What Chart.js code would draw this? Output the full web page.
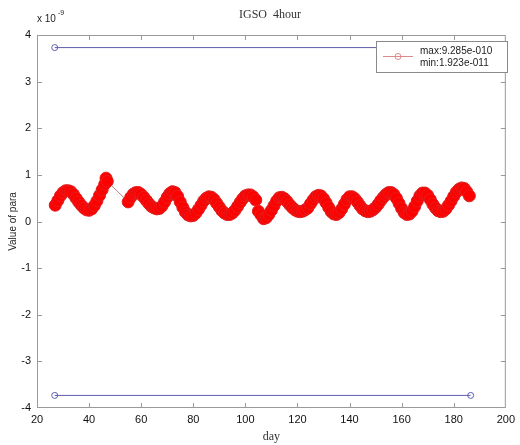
<!DOCTYPE html>
<html>
<head>
<meta charset="utf-8">
<script src="https://cdn.jsdelivr.net/npm/chart.js@4.4.0/dist/chart.umd.min.js"></script>
<style>
  html, body { margin: 0; padding: 0; background: #fff; }
  #wrap { width: 520px; height: 445px; }
</style>
</head>
<body>
<div id="wrap"><canvas id="chart" width="520" height="445"></canvas></div>
<script>
'use strict';

// data (values in units of 1e-9)
let days = [
  27, 28, 29, 30, 31, 32, 33, 34, 35, 36, 37, 38, 39, 40, 41, 42, 43, 44, 45, 46, 46.5, 47,
  55, 56, 57, 58, 59, 60, 61, 62, 63, 64, 65, 66, 67, 68, 69, 70, 71, 72, 73, 74, 75, 76, 77, 78, 79, 80,
  81, 82, 83, 84, 85, 86, 87, 88, 89, 90, 91, 92, 93, 94, 95, 96, 97, 98, 99, 100, 101, 102, 103, 104,
  105, 106, 107, 108, 109, 110, 111, 112, 113, 114, 115, 116, 117, 118, 119, 120, 121, 122, 123, 124,
  125, 126, 127, 128, 129, 130, 131, 132, 133, 134, 135, 136, 137, 138, 139, 140, 141, 142, 143, 144,
  145, 146, 147, 148, 149, 150, 151, 152, 153, 154, 155, 156, 157, 158, 159, 160, 161, 162, 163, 164,
  165, 166, 167, 168, 169, 170, 171, 172, 173, 174, 175, 176, 177, 178, 179, 180, 181, 182, 183, 184, 185, 186
];
let values = [
  0.35, 0.45, 0.55, 0.62, 0.66, 0.66, 0.64, 0.58, 0.50, 0.42, 0.35, 0.29, 0.25, 0.24, 0.27, 0.34, 0.44, 0.56, 0.68, 0.80, 0.93, 0.86,
  0.42, 0.52, 0.59, 0.62, 0.62, 0.58, 0.52, 0.45, 0.38, 0.32, 0.29, 0.27, 0.28, 0.33, 0.42, 0.52, 0.60, 0.64, 0.62, 0.54, 0.42, 0.30, 0.20, 0.14, 0.12, 0.13,
  0.18, 0.26, 0.35, 0.44, 0.50, 0.53, 0.52, 0.47, 0.39, 0.31, 0.23, 0.18, 0.15, 0.15, 0.18, 0.24, 0.32, 0.41, 0.49, 0.55, 0.57, 0.57, 0.53, 0.46,
  0.22, 0.14, 0.06, 0.08, 0.15, 0.24, 0.34, 0.44, 0.51, 0.52, 0.49, 0.43, 0.36, 0.30, 0.25, 0.22, 0.21, 0.22, 0.25, 0.29,
  0.38, 0.46, 0.53, 0.56, 0.55, 0.49, 0.40, 0.30, 0.21, 0.16, 0.15, 0.19, 0.27, 0.37, 0.47, 0.53, 0.53, 0.49, 0.42, 0.34,
  0.27, 0.23, 0.21, 0.22, 0.25, 0.30, 0.37, 0.45, 0.52, 0.58, 0.62, 0.62, 0.58, 0.50, 0.39, 0.28, 0.19, 0.15, 0.16, 0.22,
  0.32, 0.44, 0.55, 0.61, 0.61, 0.56, 0.47, 0.37, 0.29, 0.23, 0.21, 0.22, 0.27, 0.35, 0.44, 0.54, 0.63, 0.69, 0.72, 0.71, 0.64, 0.55
];

// bound lines
let boundDays = [26.8, 186.5];
let upperBound = [3.73, 3.73];
let lowerBound = [-3.73, -3.73];

let xTicks = [20, 40, 60, 80, 100, 120, 140, 160, 180, 200];
let yTicks = [-4, -3, -2, -1, 0, 1, 2, 3, 4];

let titleText = 'IGSO  4hour';
let legendLines = ['max:9.285e-010', 'min:1.923e-011'];

function toPoints(xs, ys) {
  let pts = [];
  for (let i = 0; i < xs.length; i++) {
    pts.push({ x: xs[i], y: ys[i] });
  }
  return pts;
}

// box, inward ticks, title, legend
let decorPlugin = {
  id: 'decor',
  afterDraw(chart) {
    let ctx = chart.ctx;
    let a = chart.chartArea;
    let xs = chart.scales.x;
    let ys = chart.scales.y;
    ctx.save();

    ctx.strokeStyle = '#9a9a9a';
    ctx.lineWidth = 1;
    ctx.strokeRect(a.left + 0.5, a.top + 0.5, a.right - a.left - 1, a.bottom - a.top - 1);

    ctx.beginPath();
    for (let i = 1; i < xTicks.length - 1; i++) {
      let px = Math.round(xs.getPixelForValue(xTicks[i])) + 0.5;
      ctx.moveTo(px, a.bottom); ctx.lineTo(px, a.bottom - 5);
      ctx.moveTo(px, a.top); ctx.lineTo(px, a.top + 5);
    }
    for (let i = 1; i < yTicks.length - 1; i++) {
      let py = Math.round(ys.getPixelForValue(yTicks[i])) + 0.5;
      ctx.moveTo(a.left, py); ctx.lineTo(a.left + 5, py);
      ctx.moveTo(a.right, py); ctx.lineTo(a.right - 5, py);
    }
    ctx.stroke();

    // title
    ctx.fillStyle = '#333';
    ctx.font = '12px "Liberation Serif", "Times New Roman", serif';
    ctx.textAlign = 'center';
    ctx.textBaseline = 'middle';
    ctx.fillText(titleText, 270, 15);

    // exponent
    ctx.fillStyle = '#222';
    ctx.textAlign = 'left';
    ctx.font = '10px "Liberation Sans", Arial, sans-serif';
    ctx.fillText('x 10', 37, 19);
    ctx.font = '7px "Liberation Sans", Arial, sans-serif';
    ctx.fillText('-9', 58, 13);

    // legend
    ctx.fillStyle = '#fff';
    ctx.fillRect(376, 41, 131, 31);
    ctx.strokeStyle = '#8a8a8a';
    ctx.strokeRect(376.5, 41.5, 131, 31);
    ctx.strokeStyle = '#d98a8a';
    ctx.beginPath();
    ctx.moveTo(383, 56.5); ctx.lineTo(413, 56.5);
    ctx.stroke();
    ctx.beginPath();
    ctx.arc(398, 56.5, 3, 0, Math.PI * 2);
    ctx.stroke();
    ctx.fillStyle = '#222';
    ctx.font = '10px "Liberation Sans", Arial, sans-serif';
    ctx.fillText(legendLines[0], 420, 51);
    ctx.fillText(legendLines[1], 420, 63);

    ctx.restore();
  }
};

let data = {
  datasets: [
    {
      data: toPoints(days, values),
      showLine: true,
      borderColor: 'rgba(180, 90, 90, 0.8)',
      borderWidth: 1,
      pointRadius: 6,
      pointBackgroundColor: '#ff0000',
      pointBorderColor: 'rgba(225, 30, 30, 1)',
      pointBorderWidth: 1
    },
    {
      data: toPoints(boundDays, upperBound),
      showLine: true,
      borderColor: '#5e5eae',
      borderWidth: 1,
      pointRadius: 3,
      pointBackgroundColor: 'rgba(0,0,0,0)',
      pointBorderColor: '#5e5eae'
    },
    {
      data: toPoints(boundDays, lowerBound),
      showLine: true,
      borderColor: '#5e5eae',
      borderWidth: 1,
      pointRadius: 3,
      pointBackgroundColor: 'rgba(0,0,0,0)',
      pointBorderColor: '#5e5eae'
    }
  ]
};

let tickFont = { family: '"Liberation Sans", Arial, sans-serif', size: 11 };

let config = {
  type: 'scatter',
  data: data,
  options: {
    responsive: false,
    animation: false,
    layout: { padding: { top: 35, right: 9, left: 0, bottom: 0 } },
    plugins: {
      legend: { display: false },
      tooltip: { enabled: false }
    },
    scales: {
      x: {
        type: 'linear',
        min: 20,
        max: 200,
        afterFit: (s) => { s.height = 37; },
        afterBuildTicks: (s) => { s.ticks = xTicks.map(v => ({ value: v })); },
        grid: { display: false, drawTicks: false },
        border: { display: false },
        ticks: { font: tickFont, color: '#111', padding: 5, maxRotation: 0, autoSkip: false },
        title: {
          display: true,
          text: 'day',
          color: '#333',
          font: { family: '"Liberation Serif", "Times New Roman", serif', size: 12 },
          padding: { top: 0, bottom: 1 }
        }
      },
      y: {
        type: 'linear',
        min: -4,
        max: 4,
        afterFit: (s) => { s.width = 37; },
        afterBuildTicks: (s) => { s.ticks = yTicks.map(v => ({ value: v })); },
        grid: { display: false, drawTicks: false },
        border: { display: false },
        ticks: { font: tickFont, color: '#111', padding: 6, autoSkip: false },
        title: {
          display: true,
          text: 'Value of para',
          color: '#222',
          font: { family: '"Liberation Sans", Arial, sans-serif', size: 10 },
          padding: { top: 7, bottom: 0 }
        }
      }
    }
  },
  plugins: [decorPlugin]
};

new Chart(document.getElementById('chart'), config);
</script>
</body>
</html>
